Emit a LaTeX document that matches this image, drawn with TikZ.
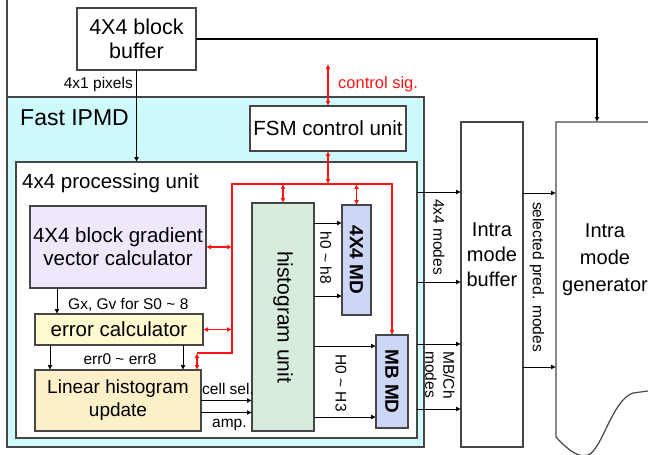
\documentclass[tikz,border=0pt]{standalone}
\usepackage{fontspec}
\setmainfont{Liberation Sans}
\usepackage{graphicx}
\usetikzlibrary{arrows.meta}
\definecolor{ipmdcyan}{RGB}{206,250,252}
\definecolor{gradlilac}{RGB}{238,232,250}
\definecolor{erryellow}{RGB}{255,250,208}
\definecolor{linsand}{RGB}{252,240,200}
\definecolor{histgreen}{RGB}{216,236,222}
\definecolor{mdblue}{RGB}{206,214,246}
\definecolor{sigred}{RGB}{255,20,20}
\definecolor{framegray}{RGB}{70,70,70}
\tikzset{
  box/.style={rectangle,draw=framegray,line width=1.2pt,inner sep=0pt,outer sep=0pt,align=center,font=\fontsize{20.5}{23}\selectfont},
  lbl/.style={font=\fontsize{15.5}{18}\selectfont,inner sep=0pt},
  arr/.style={-{Latex[length=5pt,width=5pt]},line width=0.9pt},
  redline/.style={line width=1.8pt,draw=sigred},
  redarr/.style={{Latex[length=5pt,width=5pt]}-{Latex[length=5pt,width=5pt]},line width=1.8pt,draw=sigred},
  redtip/.style={-{Latex[length=5pt,width=5pt]},line width=1.8pt,draw=sigred}
}
\begin{document}
\begin{tikzpicture}[x=1pt,y=-1pt]
  \useasboundingbox (0,0) rectangle (648,455);
  \coordinate (edge) at (7,0);
  \node[box,fill=white,minimum width=119pt,minimum height=62pt,font=\fontsize{21.5}{24}\selectfont] (buf) at (136.5,39) {4X4 block\\buffer};
  \node[box,fill=ipmdcyan,minimum width=417pt,minimum height=350pt] (ipmd) at (215.5,272) {};
  \draw[framegray,line width=1.2pt] (edge) -- (ipmd.north west);
  \node[font=\fontsize{23}{25}\selectfont,anchor=west,inner sep=0pt] (ipmdlbl) at (20,118) {Fast IPMD};
  \node[box,fill=white,minimum width=156pt,minimum height=45pt] (fsm) at (328,128.5) {FSM control unit};
  \node[box,fill=white,minimum width=401pt,minimum height=276pt] (proc) at (216.5,300) {};
  \node[font=\fontsize{20.5}{23}\selectfont,anchor=west,inner sep=0pt] (proclbl) at (22,183) {4x4 processing unit};
  \node[box,fill=gradlilac,minimum width=176pt,minimum height=82pt] (grad) at (118,247) {4X4 block gradient\\vector calculator};
  \node[box,fill=erryellow,minimum width=168pt,minimum height=31pt] (err) at (119,329.5) {error calculator};
  \node[box,fill=linsand,minimum width=166pt,minimum height=61pt,font=\fontsize{19}{23}\selectfont] (lin) at (118,400.5) {Linear histogram\\update};
  \node[box,fill=histgreen,minimum width=62pt,minimum height=228pt,font=\fontsize{21}{23}\selectfont] (hist) at (283,317) {\rotatebox{-90}{histogram unit}};
  \node[box,fill=mdblue,minimum width=29pt,minimum height=110pt,font=\fontsize{19}{22}\selectfont] (md4) at (356.5,260) {\rotatebox{-90}{\bfseries 4X4 MD}};
  \node[box,fill=mdblue,minimum width=32pt,minimum height=93pt,font=\fontsize{19}{22}\selectfont] (mbmd) at (392,381.5) {\rotatebox{-90}{\bfseries MB MD}};
  \node[box,fill=white,minimum width=62pt,minimum height=325pt] (imb) at (492,284.5) {};
  \node[align=center,inner sep=0pt,font=\fontsize{20}{25}\selectfont] (imbtxt) at (492,255) {Intra\\mode\\buffer};
  \draw[framegray,line width=1.2pt] (648,122) -- (556,122) -- (556,437)
    .. controls (568,450) and (578,458) .. (588,455)
    .. controls (602,450) and (612,400) .. (633,393) -- (648,391);
  \node[align=center,inner sep=0pt,font=\fontsize{20}{27}\selectfont] (gentxt) at (605,260) {Intra\\mode\\generator};
  \coordinate (gentop) at (597,122);
  \coordinate (g1) at (556,193);
  \coordinate (g2) at (556,367);

  \draw[arr] (buf.south) -- (buf.south |- proc.north);
  \node[lbl,anchor=east] (pixlbl) at (133,84) {4x1 pixels};
  \draw[arr,line width=1.6pt] (buf.east) -| (gentop);

  \coordinate (ctltop) at (328,64);
  \draw[redarr] (ctltop) -- (fsm.north);
  \node[lbl,text=sigred,anchor=west,font=\fontsize{16.5}{18}\selectfont] (ctllbl) at (338,84) {control sig.};
  \coordinate (busA) at (197,353);
  \coordinate (busB) at (232,353);
  \coordinate (busC) at (232,184);
  \draw[redtip] (busA) -- (busB) -- (busC) -| (mbmd.north);
  \draw[redarr] (busA) -- (busA |- lin.north);
  \draw[redarr] (fsm.south) -- (fsm.south |- busC);
  \draw[redarr] (grad.east) -- (grad.east -| busC);
  \draw[redarr] (err.east) -- (err.east -| busC);
  \draw[redarr] (hist.north) -- (hist.north |- busC);
  \draw[redarr] (md4.north) -- (md4.north |- busC);

  \draw[arr] ([xshift=27pt]grad.south west) -- ([xshift=27pt]grad.south west |- err.north);
  \node[lbl,anchor=west] (gxlbl) at (68,305) {Gx, Gv for S0 \textasciitilde{} 8};
  \draw[arr] ([xshift=15pt]err.south west) -- ([xshift=15pt]err.south west |- lin.north);
  \draw[arr] ([xshift=-20pt]err.south east) -- ([xshift=-20pt]err.south east |- lin.north);
  \node[lbl] (errlbl) at (120,359) {err0 \textasciitilde{} err8};
  \draw[arr] (lin.east) -- (lin.east -| hist.west);
  \draw[arr] ([yshift=-12pt]lin.east) -- ([yshift=-12pt]lin.east -| hist.west);
  \node[lbl,anchor=west] (sellbl) at (202,389) {cell sel.};
  \node[lbl,anchor=west] (amplbl) at (212,425) {amp.};

  \coordinate (h1) at ([yshift=-18pt]md4.north west);
  \coordinate (h2) at ([yshift=19pt]md4.south west);
  \coordinate (H1) at ([yshift=-11pt]mbmd.north west);
  \coordinate (H2) at ([yshift=11pt]mbmd.south west);
  \foreach \nm in {h1,h2,H1,H2}
    \draw[arr] (hist.east |- \nm) -- (\nm);
  \node[lbl,rotate=-90] (hlbl) at (326,258) {h0 \textasciitilde{} h8};
  \node[lbl,rotate=-90] (Hlbl) at (341,383) {H0 \textasciitilde{} H3};

  \foreach \nm/\dy in {o1/70,o2/160,o3/222,o4/287}{
    \coordinate (\nm) at ([yshift=-\dy pt]imb.north west);
    \draw[arr] (proc.east |- \nm) -- (\nm);
  }
  \node[lbl,rotate=-90] (m4lbl) at (439,237) {4x4 modes};
  \node[lbl,rotate=-90,align=left] (mblbl) at (440,375) {MB/Ch\\modes};
  \draw[arr] (imb.east |- g1) -- (g1);
  \draw[arr] (imb.east |- g2) -- (g2);
  \node[lbl,rotate=-90] (sellbl2) at (537,277) {selected pred. modes};
\end{tikzpicture}
\end{document}
